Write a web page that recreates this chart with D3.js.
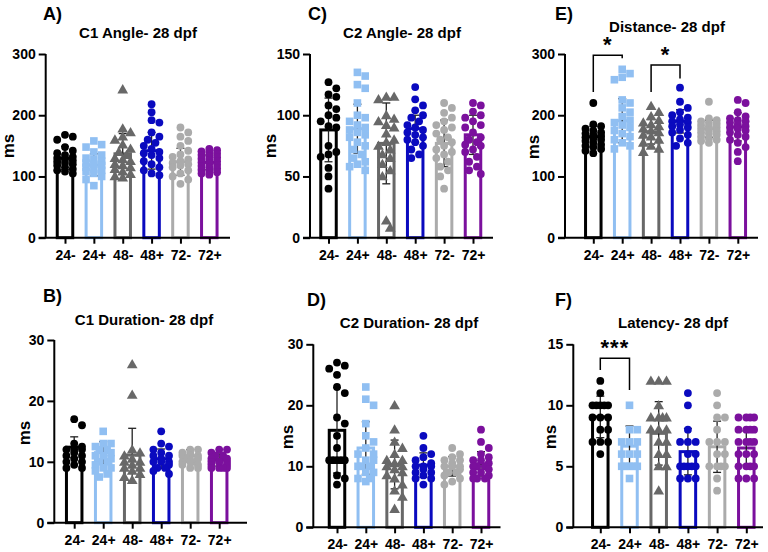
<!DOCTYPE html>
<html>
<head>
<meta charset="utf-8">
<script src="https://cdn.jsdelivr.net/npm/d3@7"></script>
<style>
  html, body { margin: 0; padding: 0; background: #fff; }
  svg { display: block; }
  text { font-family: "Liberation Sans", Arial, Helvetica, sans-serif; font-weight: bold; fill: #000; }
</style>
</head>
<body>
<div id="chart"></div>
<script>
// ---------------- DATA ----------------
const groups = ["24-", "24+", "48-", "48+", "72-", "72+"];
const groupColors = ["#000000", "#90BFF2", "#686868", "#0A0ABF", "#ABABAB", "#7B109D"];
const groupShapes = ["circle", "square", "triangle", "circle", "circle", "circle"];

// A) C1 Angle
const c1AngleMean = [130, 119, 137, 142, 124, 123];
const c1AngleSD   = [19, 18, 33, 30, 22, 12];
const c1AnglePts = [
  [168,165,160,148,142,138,135,132,130,128,126,124,122,120,118,115,112,110,108,105],
  [158,152,148,140,135,130,128,125,122,120,118,115,112,110,108,105,100,95,85],
  [242,178,172,165,160,152,145,140,135,130,128,125,120,118,115,112,108,104,100,98],
  [218,205,192,188,172,165,160,155,150,145,140,138,135,130,125,120,115,110,105,102],
  [180,172,165,158,150,142,136,132,128,125,122,120,118,115,110,105,100,95,88],
  [145,143,141,139,137,135,133,131,129,127,125,123,121,119,117,115,113,111,109,107,105,103]
];
const c1AngleTicks = [0, 100, 200, 300];

// C) C2 Angle
const c2AngleMean = [88, 89, 77, 89, 77, 84];
const c2AngleSD   = [26, 20, 33, 11, 19, 16];
const c2AnglePts = [
  [127,122,117,115,108,105,100,98,95,91,90,75,70,68,66,57,50,40],
  [135,132,125,122,110,100,98,95,92,90,88,86,84,82,78,75,72,68,65,62,60,58,55],
  [115,115,113,100,97,95,92,90,85,80,78,75,72,68,65,60,55,50,14,8],
  [123,113,108,104,100,98,95,92,90,88,86,84,82,80,78,75,72,68,65],
  [110,106,102,98,95,92,90,88,85,82,80,78,75,72,70,68,65,62,58,55,50,40],
  [110,108,103,100,98,95,92,90,86,82,80,78,76,75,72,70,66,62,58,55,52]
];
const c2AngleTicks = [0, 50, 100, 150];

// E) Distance
const distanceMean = [165, 191, 173, 190, 178, 181];
const distanceSD   = [17, 36, 20, 19, 14, 23];
const distancePts = [
  [220,185,182,178,175,172,170,168,166,164,162,160,158,155,152,150,148,145,142,138],
  [275,268,262,258,225,220,212,205,198,192,188,184,180,175,170,165,160,155,150,145],
  [215,205,198,192,188,185,182,178,175,172,168,165,160,155,150,145,140],
  [245,222,212,205,200,196,193,190,188,185,182,180,176,172,168,162,155,150],
  [222,195,192,190,188,186,184,182,180,178,176,174,172,170,168,165,162,160,158,155],
  [225,220,205,198,195,192,190,188,185,182,180,178,175,172,168,165,160,155,148,140,125]
];
const distanceTicks = [0, 100, 200, 300];
// significance brackets: [fromGroup, toGroup, label, topValue, leftEndValue, rightEndValue]
const distanceSig = [
  [0, 1, "*", 298, 238, 293],
  [2, 3, "*", 282, 238, 260]
];

// B) C1 Duration
const c1DurMean = [12.4, 11.5, 11.1, 10.5, 11.0, 10.3];
const c1DurSD   = [1.7, 1.8, 4.4, 1.6, 1.0, 1.0];
const c1DurPts = [
  [17,16,13,12.5,12,12,12,11.5,11,11,10.5,10,10,9.5,9,9],
  [15,13,13,12.5,12,12,11.5,11,11,10.5,10,10,9.5,9,9,8.5,8,7.5],
  [26,21,12,11.5,11,10.5,10,10,9.5,9,9,8.5,8,7.5,7],
  [15,13,12.5,12,11.5,11,11,10.5,10,10,10,9.5,9,9,8.5,8],
  [12,12,11.5,11.5,11,11,11,10.5,10.5,10,10,10,9.5,9.5,9,9],
  [12,12,11.5,11,11,10.5,10.5,10,10,10,10,9.5,9.5,9,9,9,9]
];
const c1DurTicks = [0, 10, 20, 30];

// D) C2 Duration
const c2DurMean = [15.9, 13.0, 10.3, 10.2, 10.0, 10.4];
const c2DurSD   = [7.0, 4.3, 4.0, 2.0, 1.6, 2.0];
const c2DurPts = [
  [27,26.5,26,25,23,22,18,17,15,13,11,11,11,11,11,8.5,8,7],
  [23,21,20,17,15,14,13,12,12,11,11,10,10,10,9,9,8,8,7.5],
  [20,16,14,13,12,11,11,10.5,10,10,9.5,9,8.5,8,7,6,5,3],
  [15,13,12,11.5,11,10.5,10,10,10,9.5,9,9,8.5,8,8,7],
  [13,12,11.5,11,11,10.5,10,10,10,9.5,9,9,8.5,8,7.5,7],
  [16,14,13,12,11.5,11,11,10.5,10,10,10,9.5,9,9,8.5,8,8,8]
];
const c2DurTicks = [0, 10, 20, 30];

// F) Latency
const latencyMean = [9.05, 6.65, 7.7, 6.2, 6.6, 6.5];
const latencySD   = [1.7, 1.65, 2.6, 1.9, 2.1, 1.4];
const latencyPts = [
  [12,11,10,10,10,10,10,9,9,9,8,8,7,7,7,6],
  [10,8,8,7,7,7,6,6,6,5,5,5,5,5,4],
  [12,12,12,10,9,9,9,9,8,8,8,7,7,6,6,5,5,3],
  [11,10,8,7,7,7,6,6,5,5,5,5,5,4,4,4],
  [11,10,9,9,8,7,7,7,6,6,5,5,5,5,4,3],
  [9,9,9,9,8,8,8,8,7,7,7,7,6,6,6,5,5,5,5,4,4,4]
];
const latencyTicks = [0, 5, 10, 15];
const latencySig = [
  [0, 1, "***", 13.85, 12.9, 11.25]
];

// ---------------- LAYOUT ----------------
const panels = [
  { letter: "A)", title: "C1 Angle- 28 dpf", mean: c1AngleMean, sd: c1AngleSD, pts: c1AnglePts, ticks: c1AngleTicks, sig: [],
    x0: 45.7, first: 65, step: 28.86, x1: 230, yTop: 54, yBot: 237.7,
    titleX: 138, titleY: 38, letterX: 43, letterY: 20, msX: 8, msY: 146 },
  { letter: "C)", title: "C2 Angle- 28 dpf", mean: c2AngleMean, sd: c2AngleSD, pts: c2AnglePts, ticks: c2AngleTicks, sig: [],
    x0: 310, first: 328.5, step: 28.9, x1: 493, yTop: 54, yBot: 237.7,
    titleX: 402, titleY: 38, letterX: 308, letterY: 20, msX: 270, msY: 146 },
  { letter: "E)", title: "Distance- 28 dpf", mean: distanceMean, sd: distanceSD, pts: distancePts, ticks: distanceTicks, sig: distanceSig,
    x0: 565, first: 593.3, step: 28.9, x1: 758, yTop: 54, yBot: 237.7,
    titleX: 667, titleY: 32, letterX: 555, letterY: 20, msX: 533, msY: 147 },
  { letter: "B)", title: "C1 Duration- 28 dpf", mean: c1DurMean, sd: c1DurSD, pts: c1DurPts, ticks: c1DurTicks, sig: [],
    x0: 54.3, first: 74.2, step: 29, x1: 247, yTop: 340, yBot: 522.7,
    titleX: 144, titleY: 325, letterX: 43, letterY: 302, msX: 24, msY: 433 },
  { letter: "D)", title: "C2 Duration- 28 dpf", mean: c2DurMean, sd: c2DurSD, pts: c2DurPts, ticks: c2DurTicks, sig: [],
    x0: 313.3, first: 337, step: 28.8, x1: 500.5, yTop: 344.3, yBot: 527.3,
    titleX: 409, titleY: 328, letterX: 307, letterY: 306, msX: 287, msY: 437 },
  { letter: "F)", title: "Latency- 28 dpf", mean: latencyMean, sd: latencySD, pts: latencyPts, ticks: latencyTicks, sig: latencySig,
    x0: 573.3, first: 600.3, step: 29.2, x1: 763, yTop: 344.3, yBot: 527.3,
    titleX: 673, titleY: 328, letterX: 555, letterY: 306, msX: 550, msY: 437 }
];

const W = 768, H = 552;
const svg = d3.select("#chart").append("svg")
  .attr("width", W).attr("height", H).attr("viewBox", `0 0 ${W} ${H}`);
svg.append("rect").attr("width", W).attr("height", H).attr("fill", "#fff");

const R = 3.9;          // marker radius
const BAR_W = 15.5;     // bar rect width (plus stroke)

function dodge(vals, y, r, maxOff) {
  const items = vals.map(v => ({ v, py: y(v) })).sort((a, b) => a.py - b.py);
  const placed = [];
  const stepX = r;
  const cands = [0];
  for (let k = 1; k * stepX <= maxOff + 0.01; k++) cands.push(k * stepX, -k * stepX);
  const minD = 2 * r * 0.95;
  for (const p of items) {
    let best = 0, bestScore = Infinity;
    for (const dx of cands) {
      let overlap = 0;
      for (const q of placed) {
        const d = Math.hypot(dx - q.dx, p.py - q.py);
        if (d < minD) overlap += (minD - d);
      }
      if (overlap === 0) { best = dx; bestScore = 0; break; }
      if (overlap < bestScore) { bestScore = overlap; best = dx; }
    }
    p.dx = best;
    placed.push(p);
  }
  return items;
}

const symTri = d3.symbol().type(d3.symbolTriangle).size(50);

panels.forEach(p => {
  const g = svg.append("g");
  const yMax = p.ticks[p.ticks.length - 1];
  const y = d3.scaleLinear().domain([0, yMax]).range([p.yBot, p.yTop]);
  const x = d3.scalePoint().domain(groups).range([p.first, p.first + p.step * (groups.length - 1)]);

  // titles
  g.append("text").attr("x", p.letterX).attr("y", p.letterY)
    .attr("font-size", 18).text(p.letter);
  g.append("text").attr("x", p.titleX).attr("y", p.titleY)
    .attr("text-anchor", "middle").attr("font-size", 15).text(p.title);
  g.append("text").attr("transform", `translate(${p.msX},${p.msY}) rotate(-90)`)
    .attr("text-anchor", "middle").attr("dominant-baseline", "central")
    .attr("font-size", 17).text("ms");

  // bars
  groups.forEach((grp, i) => {
    const cx = x(grp);
    g.append("rect")
      .attr("x", cx - BAR_W / 2).attr("y", y(p.mean[i]))
      .attr("width", BAR_W).attr("height", y(0) - y(p.mean[i]))
      .attr("fill", "#fff").attr("stroke", groupColors[i]).attr("stroke-width", 3);
  });

  // error bars (mean ± SD), drawn beneath the points
  groups.forEach((grp, i) => {
    const cx = x(grp);
    const lo = Math.max(0, p.mean[i] - p.sd[i]);
    const hi = p.mean[i] + p.sd[i];
    const eb = g.append("g").attr("stroke", "#222").attr("stroke-width", 1.3).attr("fill", "none");
    eb.append("line").attr("x1", cx).attr("x2", cx).attr("y1", y(lo)).attr("y2", y(hi));
    eb.append("line").attr("x1", cx - 4).attr("x2", cx + 4).attr("y1", y(hi)).attr("y2", y(hi));
    eb.append("line").attr("x1", cx - 4).attr("x2", cx + 4).attr("y1", y(lo)).attr("y2", y(lo));
  });

  // points
  groups.forEach((grp, i) => {
    const cx = x(grp);
    const pts = dodge(p.pts[i], y, R, 7.8);
    const col = groupColors[i];
    const shape = groupShapes[i];
    pts.forEach(pt => {
      if (shape === "circle") {
        g.append("circle").attr("cx", cx + pt.dx).attr("cy", pt.py).attr("r", R).attr("fill", col);
      } else if (shape === "square") {
        g.append("rect").attr("x", cx + pt.dx - 3.8).attr("y", pt.py - 3.8)
          .attr("width", 7.6).attr("height", 7.6).attr("fill", col);
      } else {
        g.append("path").attr("d", symTri)
          .attr("transform", `translate(${cx + pt.dx},${pt.py + 0.8})`).attr("fill", col);
      }
    });
  });

  // y axis
  const yAxis = d3.axisLeft(y).tickValues(p.ticks).tickSize(7).tickPadding(3).tickFormat(d3.format("d"));
  const ya = g.append("g").attr("transform", `translate(${p.x0},0)`).call(yAxis);
  ya.select(".domain").attr("stroke", "#000").attr("stroke-width", 2)
    .attr("d", `M0,${p.yTop}V${p.yBot}`);
  ya.selectAll(".tick line").attr("stroke", "#000").attr("stroke-width", 2);
  ya.selectAll(".tick text").attr("font-size", 14).attr("font-family", null).style("font-weight", "bold").attr("fill", "#000");

  // x axis
  const xAxis = d3.axisBottom(x).tickSize(6).tickPadding(6);
  const xa = g.append("g").attr("transform", `translate(0,${p.yBot})`).call(xAxis);
  xa.select(".domain").attr("stroke", "#000").attr("stroke-width", 2)
    .attr("d", `M${p.x0 - 7},0H${p.x1}`);
  xa.selectAll(".tick line").attr("stroke", "#000").attr("stroke-width", 2);
  xa.selectAll(".tick text").attr("font-size", 14).attr("font-family", null).style("font-weight", "bold").attr("fill", "#000");

  // significance brackets
  p.sig.forEach(s => {
    const [a, b, label, top, lEnd, rEnd] = s;
    const xa1 = x(groups[a]), xb1 = x(groups[b]);
    g.append("path")
      .attr("d", `M${xa1},${y(lEnd)}V${y(top)}H${xb1}V${y(rEnd)}`)
      .attr("fill", "none").attr("stroke", "#000").attr("stroke-width", 1.5);
    g.append("text").attr("x", (xa1 + xb1) / 2).attr("y", y(top) - 3)
      .attr("text-anchor", "middle").attr("font-size", 22).attr("letter-spacing", 1).text(label);
  });
});
</script>
</body>
</html>
